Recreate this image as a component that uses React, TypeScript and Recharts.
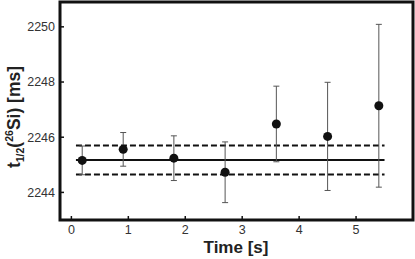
import React from 'react';
import {
  ComposedChart,
  Scatter,
  ErrorBar,
  XAxis,
  YAxis,
  ReferenceLine,
  ReferenceArea,
} from 'recharts';

const times = [0.19, 0.91, 1.8, 2.7, 3.6, 4.5, 5.4];
const halfLives = [2245.16, 2245.56, 2245.24, 2244.73, 2246.48, 2246.03, 2247.14];
const errors = [0.52, 0.61, 0.81, 1.1, 1.37, 1.96, 2.95];
const xTicks = [0, 1, 2, 3, 4, 5];
const yTicks = [2244, 2246, 2248, 2250];
const meanValue = 2245.17;
const meanLow = 2244.65;
const meanHigh = 2245.7;
const lineStart = 0.08;
const lineEnd = 5.5;

const data = times.map((t, i) => ({ x: t, y: halfLives[i], err: errors[i] }));

const tickStyle = { fill: '#333', fontSize: 12.5, fontFamily: 'Liberation Sans, Arial, sans-serif' };

const Dot = (props: any) => <circle cx={props.cx} cy={props.cy} r={4.5} fill="#111" />;

const YLabel = () => (
  <text
    transform="translate(20,117) rotate(-90)"
    textAnchor="middle"
    fontFamily="Liberation Sans, Arial, sans-serif"
    fontWeight="bold"
    fontSize={17.5}
    fill="#222"
  >
    t<tspan fontSize={10.5} dy={4}>1/2</tspan>
    <tspan dy={-4}>(</tspan>
    <tspan fontSize={10.5} dy={-7}>26</tspan>
    <tspan dy={7}>Si) [ms]</tspan>
  </text>
);

const XLabel = () => (
  <text
    x={236}
    y={253}
    textAnchor="middle"
    fontFamily="Liberation Sans, Arial, sans-serif"
    fontWeight="bold"
    fontSize={17}
    fill="#222"
  >
    Time [s]
  </text>
);

export default function App() {
  return (
    <div style={{ position: 'absolute', left: 0, top: 0, background: '#fff' }}>
      <ComposedChart width={415} height={259} margin={{ top: 2, right: 2, bottom: 0, left: 0 }}>
        <XAxis
          type="number"
          dataKey="x"
          domain={[-0.2, 6.0]}
          ticks={xTicks}
          allowDataOverflow
          axisLine={false}
          tickLine={{ stroke: '#111', strokeWidth: 1.5 }}
          tickSize={-4}
          tickMargin={9}
          tick={tickStyle}
          height={39}
          label={{ content: () => <XLabel /> }}
        />
        <YAxis
          type="number"
          dataKey="y"
          domain={[2243, 2250.9]}
          ticks={yTicks}
          allowDataOverflow
          axisLine={false}
          tickLine={{ stroke: '#111', strokeWidth: 1.5 }}
          tickSize={-4}
          tickMargin={9}
          tick={tickStyle}
          width={60}
          label={{ content: () => <YLabel /> }}
        />
        <ReferenceArea x1={-0.2} x2={6.0} y1={2243} y2={2250.9} fill="none" stroke="#111" strokeWidth={3} />
        <ReferenceLine segment={[{ x: lineStart, y: meanHigh }, { x: lineEnd, y: meanHigh }]} stroke="#111" strokeWidth={2} strokeDasharray="6 3" />
        <ReferenceLine segment={[{ x: lineStart, y: meanLow }, { x: lineEnd, y: meanLow }]} stroke="#111" strokeWidth={2} strokeDasharray="6 3" />
        <ReferenceLine segment={[{ x: lineStart, y: meanValue }, { x: lineEnd, y: meanValue }]} stroke="#111" strokeWidth={2} />
        <Scatter data={data} dataKey="y" shape={<Dot />} isAnimationActive={false}>
          <ErrorBar dataKey="err" direction="y" width={3} stroke="#555" strokeWidth={1} />
        </Scatter>
      </ComposedChart>
    </div>
  );
}
